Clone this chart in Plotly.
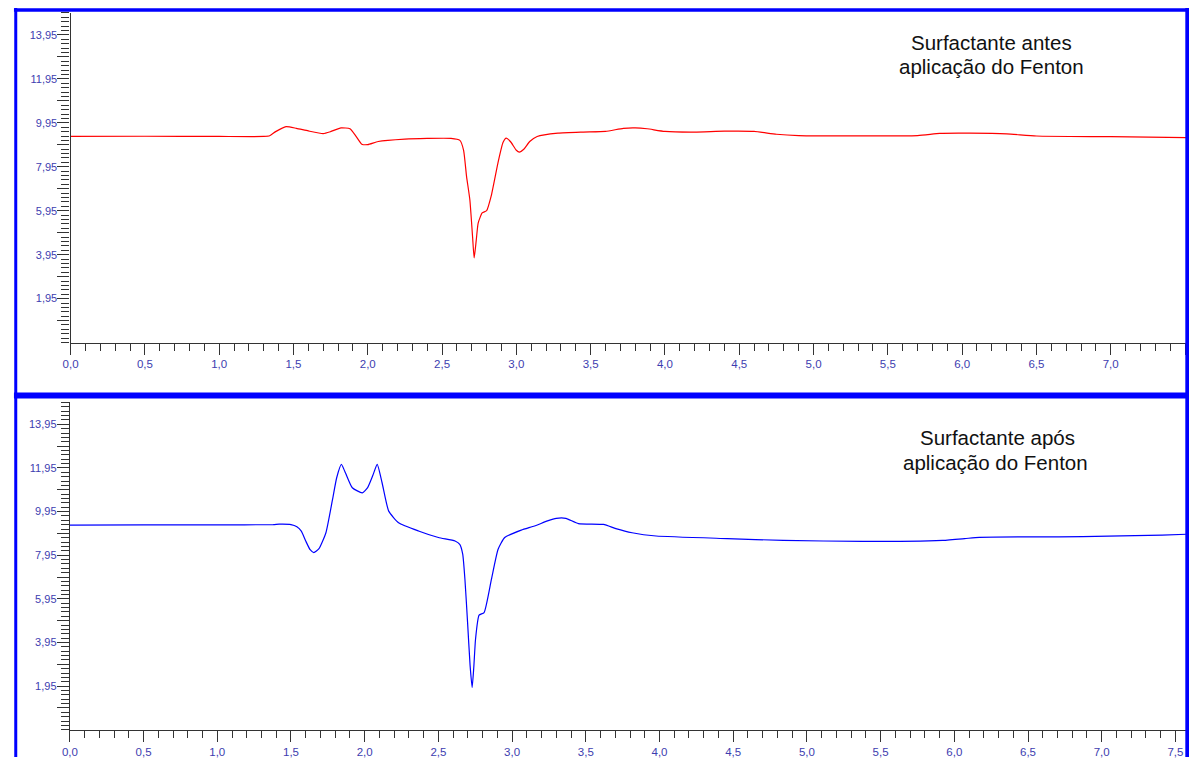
import plotly.graph_objects as go

# ---- data ----
before_x = [0.00, 0.50, 1.00, 1.30, 1.34, 1.38, 1.45, 1.52, 1.60, 1.70, 1.75, 1.82, 1.88,
            1.92, 1.96, 2.00, 2.07, 2.25, 2.40, 2.56, 2.62, 2.645, 2.665, 2.687, 2.705,
            2.716, 2.73, 2.743, 2.77, 2.80, 2.83, 2.876, 2.91, 2.932, 2.96, 3.00, 3.02,
            3.05, 3.09, 3.14, 3.28, 3.45, 3.60, 3.72, 3.80, 3.88, 4.00, 4.20, 4.40, 4.60,
            4.75, 4.90, 5.70, 5.85, 6.05, 6.30, 6.50, 7.00, 7.51]
before_y = [9.33, 9.34, 9.33, 9.33, 9.36, 9.55, 9.78, 9.70, 9.58, 9.46, 9.55, 9.72, 9.68,
            9.35, 8.98, 8.96, 9.10, 9.21, 9.24, 9.24, 9.15, 8.70, 7.50, 6.45, 4.80,
            3.80, 4.60, 5.39, 5.85, 5.95, 6.60, 8.12, 9.05, 9.25, 9.10, 8.70, 8.62,
            8.75, 9.10, 9.33, 9.48, 9.53, 9.56, 9.70, 9.72, 9.68, 9.56, 9.53, 9.57, 9.56,
            9.43, 9.37, 9.37, 9.47, 9.48, 9.45, 9.35, 9.32, 9.28]

after_x = [0.00, 0.50, 1.00, 1.38, 1.42, 1.50, 1.54, 1.57, 1.60, 1.63, 1.655, 1.69, 1.737,
           1.782, 1.81, 1.842, 1.869, 1.916, 1.984, 2.02, 2.055, 2.085, 2.118, 2.163, 2.23,
           2.365, 2.50, 2.613, 2.645, 2.665, 2.68, 2.698, 2.715, 2.729, 2.74, 2.752, 2.776,
           2.81, 2.86, 2.905, 2.95, 3.062, 3.152, 3.24, 3.30, 3.365, 3.45, 3.62, 3.704,
           3.814, 3.977, 4.46, 4.84, 5.38, 5.92, 6.07, 6.17, 6.87, 7.41, 7.575]
after_y = [9.33, 9.34, 9.34, 9.35, 9.37, 9.35, 9.25, 9.05, 8.60, 8.20, 8.07, 8.25, 8.98,
           10.51, 11.50, 12.11, 11.73, 11.04, 10.81, 11.05, 11.60, 12.11, 11.27, 9.97, 9.44,
           9.06, 8.76, 8.60, 8.45, 8.00, 6.85, 4.87, 2.90, 1.89, 2.80, 4.10, 5.20,
           5.32, 6.85, 8.22, 8.76, 9.10, 9.29, 9.52, 9.64, 9.64, 9.40, 9.36, 9.17,
           8.98, 8.83, 8.71, 8.63, 8.58, 8.63, 8.71, 8.77, 8.80, 8.87, 8.91]

y_tick_vals = [0.95, 1.95, 2.95, 3.95, 4.95, 5.95, 6.95, 7.95, 8.95, 9.95, 10.95, 11.95, 12.95, 13.95]
y_tick_text = ["", "1,95", "", "3,95", "", "5,95", "", "7,95", "", "9,95", "", "11,95", "", "13,95"]

title_before = ["Surfactante antes", "aplicação do Fenton"]
title_after = ["Surfactante após", "aplicação do Fenton"]

W, H = 1189, 758
TICKCOL = "#3d3db0"
AXCOL = "#333333"

fig = go.Figure()
fig.add_trace(go.Scatter(x=before_x, y=before_y, mode="lines", xaxis="x", yaxis="y",
                         line=dict(color="#ff0000", width=1.2, shape="spline", smoothing=0.5)))
fig.add_trace(go.Scatter(x=after_x, y=after_y, mode="lines", xaxis="x2", yaxis="y2",
                         line=dict(color="#0000ff", width=1.2, shape="spline", smoothing=0.5)))

def xax(domain, rng, anchor):
    return dict(domain=domain, range=rng, anchor=anchor, showgrid=False, zeroline=False,
                showline=True, linecolor=AXCOL, linewidth=1.3,
                ticks="outside", ticklen=11, tickwidth=1, tickcolor=AXCOL,
                tick0=0, dtick=0.5, tickformat=".1f",
                tickfont=dict(family="Liberation Sans, Arial", size=11.5, color=TICKCOL),
                minor=dict(ticks="outside", ticklen=7, tickwidth=1, tickcolor=AXCOL,
                           tickmode="linear", tick0=0, dtick=0.1),
                fixedrange=True)

def yax(domain, anchor):
    return dict(domain=domain, range=[-0.05, 14.95], anchor=anchor, showgrid=False, zeroline=False,
                showline=True, linecolor=AXCOL, linewidth=1.3,
                ticks="outside", ticklen=12, tickwidth=1.3, tickcolor=AXCOL,
                tickmode="array", tickvals=y_tick_vals, ticktext=y_tick_text,
                ticklabelstandoff=-2,
                tickfont=dict(family="Liberation Sans, Arial", size=11, color=TICKCOL),
                minor=dict(ticks="outside", ticklen=8, tickwidth=1.3, tickcolor=AXCOL,
                           tickmode="linear", tick0=-0.05, dtick=0.2),
                fixedrange=True)

fig.update_layout(
    width=W, height=H, margin=dict(l=0, r=0, t=0, b=0),
    paper_bgcolor="white", plot_bgcolor="white", showlegend=False,
    separators=",.",
    xaxis=xax([63 / W, 1186 / W], [0, 7.5067], "y"),
    yaxis=yax([1 - 343 / H, 1 - 13 / H], "x"),
    xaxis2=xax([62.3 / W, 1186 / W], [0, 7.572], "y2"),
    yaxis2=yax([1 - 730.7 / H, 1 - 403 / H], "x2"),
)

def ann(text, xc, yc):
    fig.add_annotation(text=text, x=xc / W, y=1 - yc / H, xref="paper", yref="paper",
                       showarrow=False, xanchor="center", yanchor="middle",
                       font=dict(family="Liberation Sans, Arial", size=20.5, color="#111111"))

ann(title_before[0], 990, 43)
ann(title_before[1], 990, 67)
ann(title_after[0], 996, 438)
ann(title_after[1], 994, 463)

BLUE = "#0000ff"
def pline(x0, y0, x1, y1, w):
    fig.add_shape(type="line", xref="paper", yref="paper", layer="above",
                  x0=x0 / W, y0=1 - y0 / H, x1=x1 / W, y1=1 - y1 / H,
                  line=dict(color=BLUE, width=w))

pline(6, 10, W, 10, 3.5)        # top border
pline(7.8, 8, 7.8, H, 3)        # left border
pline(1187.3, 8, 1187.3, H, 4)  # right border
pline(6, 396, W, 396, 6)        # separator between panels

fig.write_html("out.html")
